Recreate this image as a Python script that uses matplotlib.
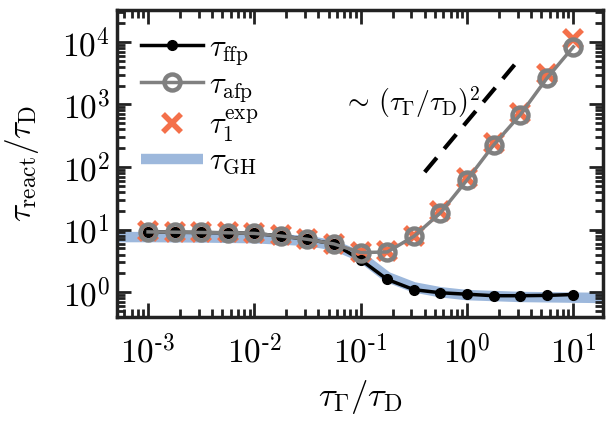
import math
import matplotlib
matplotlib.use('Agg')
import matplotlib.pyplot as plt
from matplotlib.ticker import LogLocator, FuncFormatter, NullFormatter

plt.rcParams['mathtext.fontset'] = 'cm'
plt.rcParams['font.family'] = 'serif'
plt.rcParams['font.serif'] = ['cmr10', 'DejaVu Serif']
plt.rcParams['axes.unicode_minus'] = False

# data
x = [1e-3, 1.78e-3, 3.16e-3, 5.62e-3, 1e-2, 1.78e-2, 3.16e-2, 5.62e-2,
     0.1, 0.178, 0.316, 0.562, 1.0, 1.78, 3.16, 5.62, 10.0]
tau_ffp = [9.2, 9.1, 9.0, 8.9, 8.7, 7.9, 7.0, 5.9,
           3.3, 1.6, 1.1, 0.98, 0.93, 0.88, 0.88, 0.89, 0.92]
tau_afp = [9.2, 9.1, 9.0, 8.9, 8.7, 7.9, 7.0, 5.9,
           4.3, 4.4, 7.8, 18.5, 62, 225, 680, 2600, 8300]
tau_exp = [9.4, 9.3, 9.2, 9.1, 8.9, 8.1, 7.2, 6.0,
           4.4, 4.5, 8.0, 19.5, 66, 240, 740, 3100, 11000]
x_gh = [5e-4, 1e-3, 3.16e-3, 1e-2, 3.16e-2, 5.62e-2, 0.1, 0.178,
        0.316, 0.562, 1.0, 3.16, 10.0, 20.0]
tau_gh = [7.6, 7.6, 7.5, 7.3, 6.6, 5.6, 3.7, 1.75,
          1.2, 1.0, 0.9, 0.84, 0.82, 0.81]
guide_x = [0.40, 2.8]
guide_y = [83, 4300]

fig = plt.figure(figsize=(6.06, 4.24), dpi=100)
ax = fig.add_axes([0.193, 0.252, 0.802, 0.724])

ax.plot(x_gh, tau_gh, color='#9db8dc', lw=7.5, solid_capstyle='butt',
        label=r'$\tau_{\mathrm{GH}}$', zorder=1)
ax.plot(x, tau_ffp, color='k', lw=2.5, marker='o', ms=7,
        label=r'$\tau_{\mathrm{ffp}}$', zorder=3)
ax.plot(x, tau_afp, color='#808080', lw=2.5, marker='o', ms=11.5, mfc='none',
        mew=3.2, label=r'$\tau_{\mathrm{afp}}$', zorder=4)
ax.plot(x, tau_exp, ls='none', color='#f4704a', marker='x', ms=13, mew=4,
        label=r'$\tau_1^{\mathrm{exp}}$', zorder=2)
ax.plot(guide_x, guide_y, color='k', lw=3, dashes=(4.5, 2.8))
ax.text(0.068, 1100, r'$\sim\,(\tau_{\Gamma}/\tau_{\mathrm{D}})^2$',
        fontsize=20, ha='left', va='center')

ax.set_xscale('log')
ax.set_yscale('log')
ax.set_xlim(5.1e-4, 19)
ax.set_ylim(0.4, 3.2e4)


def decade(v, pos):
    e = int(round(math.log10(v)))
    if e < 0:
        return r'$10^{\text{-}%d}$' % (-e)
    return r'$10^{%d}$' % e


ax.xaxis.set_major_locator(LogLocator(base=10, numticks=10))
ax.yaxis.set_major_locator(LogLocator(base=10, numticks=10))
ax.xaxis.set_minor_locator(LogLocator(base=10, subs=range(2, 10), numticks=20))
ax.yaxis.set_minor_locator(LogLocator(base=10, subs=range(2, 10), numticks=20))
ax.xaxis.set_major_formatter(FuncFormatter(decade))
ax.yaxis.set_major_formatter(FuncFormatter(decade))
ax.xaxis.set_minor_formatter(NullFormatter())
ax.yaxis.set_minor_formatter(NullFormatter())

ax.tick_params(which='both', direction='in', top=True, right=True,
               width=2, color='#222222', labelsize=24)
ax.tick_params(which='major', length=10)
ax.tick_params(which='minor', length=5.5)
ax.tick_params(axis='x', pad=12)
ax.tick_params(axis='y', pad=5)
for s in ax.spines.values():
    s.set_linewidth(2.5)
    s.set_color('#222222')

ax.set_xlabel(r'$\tau_{\Gamma}/\tau_{\mathrm{D}}$', fontsize=25, labelpad=6)
ax.set_ylabel(r'$\tau_{\mathrm{react}}/\tau_{\mathrm{D}}$', fontsize=24, labelpad=15)

h, l = ax.get_legend_handles_labels()
order = [1, 2, 3, 0]
ax.legend([h[i] for i in order], [l[i] for i in order], loc='upper left',
          frameon=False, fontsize=22, handlelength=2.0, handletextpad=0.2,
          labelspacing=0.12, borderaxespad=0.5, borderpad=0.3)

fig.savefig('out.png', dpi=100)
